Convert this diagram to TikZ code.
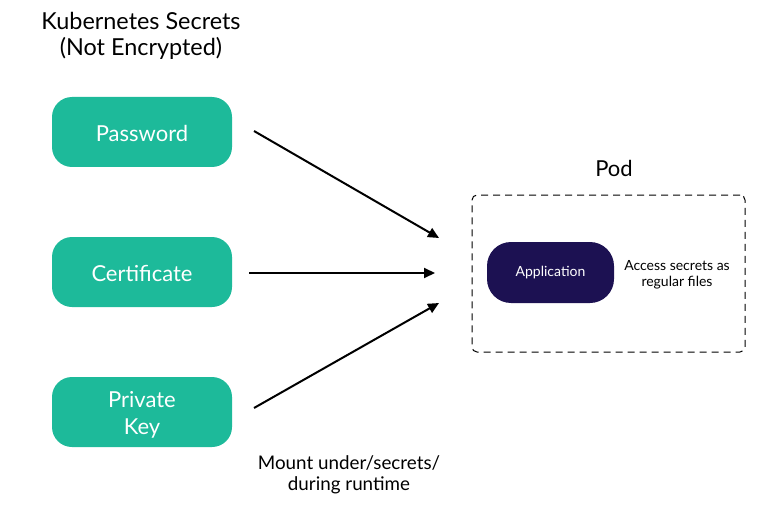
\documentclass[tikz,border=0pt]{standalone}
\usepackage{fontspec}
\setmainfont{Lato}
\usetikzlibrary{arrows.meta}
\definecolor{teal1}{RGB}{29,186,154}
\definecolor{navy1}{RGB}{28,17,82}
\newcommand{\dropby}[2]{\raisebox{-#1}[\height][\depth]{#2}}
\tikzset{
  secretbox/.style={fill=teal1, draw=none, rounded corners=20pt, minimum width=180pt, minimum height=70pt, text=white, font=\fontsize{22}{27}\selectfont, align=center},
  appbox/.style={fill=navy1, draw=none, rounded corners=24pt, minimum width=127pt, minimum height=61pt, text=white, font=\fontsize{14}{16}\selectfont},
  podbox/.style={draw=black, dashed, dash pattern=on 7pt off 5pt, line width=1pt, rounded corners=5pt, minimum width=273pt, minimum height=157pt},
  heading/.style={font=\fontsize{23.4}{26}\selectfont, align=center, text=black},
  podhead/.style={font=\fontsize{22}{25}\selectfont, text=black},
  note/.style={font=\fontsize{14}{15.5}\selectfont, align=center, text=black},
  mountnote/.style={font=\fontsize{18.8}{21}\selectfont, align=center, text=black},
  feed/.style={line width=2pt, -{Triangle[length=11pt,width=10pt]}}
}
\begin{document}
\begin{tikzpicture}[x=1pt,y=-1pt]
\useasboundingbox (0,0) rectangle (778,505);
\node[heading] (title) at (141,36) {Kubernetes Secrets\\(Not Encrypted)};
\node[secretbox] (pw) at (142,132) {\dropby{1.5pt}{Password}};
\node[secretbox] (cert) at (142,272) {\dropby{1.5pt}{Certificate}};
\node[secretbox] (key) at (142,412) {\dropby{3.5pt}{\begin{tabular}{@{}c@{}}Private\\Key\end{tabular}}};
\node[podbox] (pod) at (608.5,273.5) {};
\node[podhead] (podlabel) at (614,168) {Pod};
\node[appbox] (app) at (550.5,272.5) {Application};
\node[note] (access) at (677,275) {Access secrets as\\regular files};
\node[mountnote] (mount) at (349,475) {Mount under/secrets/\\during runtime};
\coordinate (pwS) at (254,131);
\coordinate (certS) at (249,273);
\coordinate (keyS) at (254,408);
\coordinate (t1) at (439,238);
\coordinate (t2) at (435,273);
\coordinate (t3) at (439,303);
\draw[feed] (pwS) -- (t1);
\draw[feed] (certS) -- (t2);
\draw[feed] (keyS) -- (t3);
\end{tikzpicture}
\end{document}
